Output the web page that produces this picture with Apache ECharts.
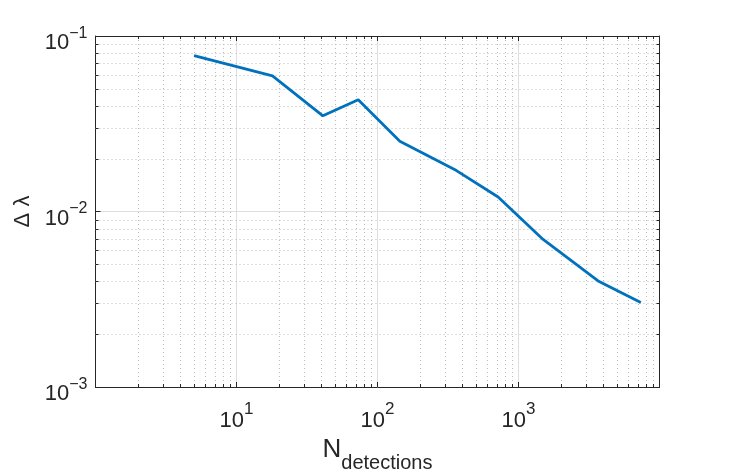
<!DOCTYPE html>
<html>
<head>
<meta charset="utf-8">
<script src="https://cdn.jsdelivr.net/npm/echarts@6/dist/echarts.min.js"></script>
<style>
  html, body { margin: 0; padding: 0; background: #fff; }
  #chart { width: 729px; height: 476px; }
</style>
</head>
<body>
<div id="chart"></div>
<script>
// data
const nDetections = [5, 18, 41, 73, 144, 363, 717, 1495, 3670, 7370];
const deltaLambda = [0.0773, 0.0593, 0.0351, 0.0433, 0.0251, 0.0171, 0.0121, 0.00693, 0.00402, 0.00303];

const X_MIN = 1, X_MAX = 10000;
const Y_MIN = 0.001, Y_MAX = 0.1;
const xMinor = [];
for (let d = 1; d < X_MAX; d *= 10) for (let k = 2; k <= 9; k++) xMinor.push(d * k);
const yMinor = [];
for (let d = 0.001; d < Y_MAX * 0.99; d *= 10) for (let k = 2; k <= 9; k++) yMinor.push(+(d * k).toPrecision(3));

const txt = '#262626';
const font = '"Liberation Sans", Arial, sans-serif';

function supLabel(v, lo, hi) {
  const e = Math.round(Math.log10(v));
  if (e < lo || e > hi) return '';
  return '{b|10}{s|' + String(e).replace('-', '\u2212') + '}';
}

// minor dotted grid and small inward ticks, placed through the axes
function minorRender(isX) {
  return function (params, api) {
    const cs = params.coordSys;
    const children = [];
    const dotted = { stroke: '#bcbcbc', lineWidth: 1, lineDash: [1, 3] };
    const tick = { stroke: txt, lineWidth: 1 };
    if (isX) {
      const x = Math.round(api.coord([api.value(0), Y_MIN])[0]) + 0.5;
      children.push({ type: 'line', shape: { x1: x, y1: cs.y, x2: x, y2: cs.y + cs.height }, style: dotted });
      children.push({ type: 'line', shape: { x1: x, y1: cs.y + cs.height, x2: x, y2: cs.y + cs.height - 3 }, style: tick });
      children.push({ type: 'line', shape: { x1: x, y1: cs.y, x2: x, y2: cs.y + 3 }, style: tick });
    } else {
      const y = Math.round(api.coord([X_MIN, api.value(1)])[1]) + 0.5;
      children.push({ type: 'line', shape: { x1: cs.x, y1: y, x2: cs.x + cs.width, y2: y }, style: dotted });
      children.push({ type: 'line', shape: { x1: cs.x, y1: y, x2: cs.x + 3, y2: y }, style: tick });
      children.push({ type: 'line', shape: { x1: cs.x + cs.width, y1: y, x2: cs.x + cs.width - 3, y2: y }, style: tick });
    }
    return { type: 'group', children: children };
  };
}

const chart = echarts.init(document.getElementById('chart'), null, { renderer: 'canvas' });

const axisBase = {
  type: 'log',
  logBase: 10,
  axisLine: { show: true, lineStyle: { color: txt, width: 1 } },
  axisTick: { show: true, inside: true, length: 5, lineStyle: { color: txt } },
  splitLine: { show: false },
  minorTick: { show: false },
  minorSplitLine: { show: false }
};

chart.setOption({
  animation: false,
  backgroundColor: '#fff',
  grid: { left: 95.5, right: 69.5, top: 36, bottom: 89, outerBoundsMode: 'none', containLabel: false },
  xAxis: [
    Object.assign({}, axisBase, {
      min: X_MIN, max: X_MAX, position: 'bottom',
      splitLine: { show: true, lineStyle: { color: '#dedede', width: 1 } },
      axisLabel: {
        margin: 14,
        formatter: v => supLabel(v, 1, 3),
        rich: {
          b: { fontSize: 22, color: txt, fontFamily: font, padding: [6, 0, 0, 0] },
          s: { fontSize: 17, color: txt, fontFamily: font, padding: [0, 0, 16, 0] }
        }
      },
      name: '{n|N}{d|detections}',
      nameLocation: 'middle',
      nameGap: 40,
      nameTextStyle: {
        rich: {
          n: { fontSize: 26, color: txt, fontFamily: font },
          d: { fontSize: 20, color: txt, fontFamily: font, padding: [26, 0, 0, 0] }
        }
      }
    }),
    Object.assign({}, axisBase, {
      min: X_MIN, max: X_MAX, position: 'top',
      axisLabel: { show: false }
    })
  ],
  yAxis: [
    Object.assign({}, axisBase, {
      min: Y_MIN, max: Y_MAX, position: 'left',
      splitLine: { show: true, lineStyle: { color: '#dedede', width: 1 } },
      axisLabel: {
        margin: 8,
        formatter: v => supLabel(v, -3, -1),
        rich: {
          b: { fontSize: 22, color: txt, fontFamily: font, padding: [14, 0, 0, 0] },
          s: { fontSize: 16, color: txt, fontFamily: font, padding: [0, 0, 5, 0] }
        }
      },
      name: 'Δ λ',
      nameLocation: 'middle',
      nameGap: 62,
      nameTextStyle: { fontSize: 22, color: txt, fontFamily: font }
    }),
    Object.assign({}, axisBase, {
      min: Y_MIN, max: Y_MAX, position: 'right',
      axisLabel: { show: false }
    })
  ],
  series: [
    {
      type: 'custom',
      xAxisIndex: 0, yAxisIndex: 0,
      z: 1, silent: true,
      renderItem: minorRender(true),
      data: xMinor.map(v => [v, Y_MIN])
    },
    {
      type: 'custom',
      xAxisIndex: 0, yAxisIndex: 0,
      z: 1, silent: true,
      renderItem: minorRender(false),
      data: yMinor.map(v => [X_MIN, v])
    },
    {
      type: 'line',
      xAxisIndex: 0, yAxisIndex: 0,
      z: 5,
      data: nDetections.map((n, i) => [n, deltaLambda[i]]),
      showSymbol: false,
      lineStyle: { color: '#0072BD', width: 2.8 },
      itemStyle: { color: '#0072BD' }
    }
  ]
});
</script>
</body>
</html>
